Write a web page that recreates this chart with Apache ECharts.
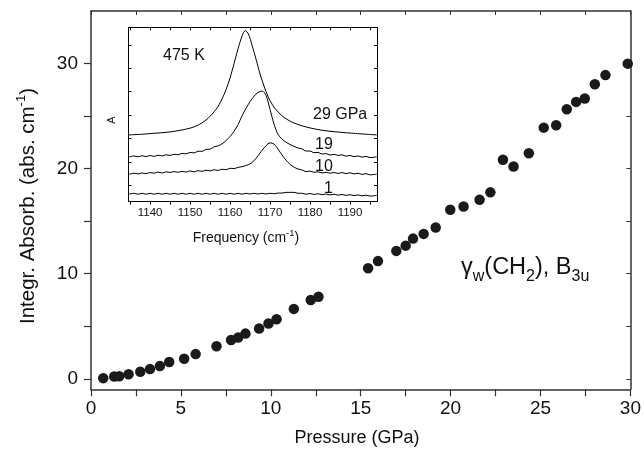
<!DOCTYPE html>
<html><head><meta charset="utf-8">
<script src="https://cdn.jsdelivr.net/npm/echarts@6/dist/echarts.min.js"></script>
<style>html,body{margin:0;padding:0;background:#fff}#c{width:644px;height:451px}</style>
</head><body><div id="c"></div>
<script>
// ---- main plot data ----
const pressure = [0.68,1.29,1.57,2.09,2.74,3.28,3.83,4.35,5.18,5.82,6.98,7.79,8.18,8.59,9.35,9.87,10.32,11.28,12.22,12.65,15.41,15.96,16.98,17.5,17.91,18.5,19.17,19.98,20.72,21.61,22.21,22.91,23.5,24.35,25.18,25.87,26.46,26.98,27.46,28.02,28.61,29.85];
const absorbance = [0.06,0.22,0.25,0.44,0.67,0.92,1.21,1.59,1.91,2.35,3.09,3.69,3.92,4.30,4.78,5.26,5.67,6.65,7.49,7.80,10.52,11.2,12.17,12.67,13.34,13.79,14.39,16.09,16.4,17.04,17.74,20.84,20.2,21.47,23.9,24.12,25.65,26.35,26.67,28.03,28.9,29.99];
const xTickLabels = [0,5,10,15,20,25,30];
const yTickLabels = [0,10,20,30];

// ---- inset spectra (475 K) ----
const freq = [1134.6,1136,1137,1138,1139,1140,1141,1142,1143,1144,1145,1146,1147,1148,1149,1150,1151,1152,1153,1154,1155,1156,1157,1158,1159,1160,1161,1162,1163,1164,1165,1166,1167,1168,1169,1170,1171,1172,1173,1174,1175,1176,1177,1178,1179,1180,1181,1182,1183,1184,1185,1186,1187,1188,1189,1190,1191,1192,1193,1194,1195,1196.7];
const spec19 = [1.91,1.96,1.92,1.97,1.93,1.98,1.94,1.99,1.96,2.01,1.98,2.03,2.01,2.07,2.05,2.11,2.09,2.16,2.16,2.24,2.25,2.35,2.39,2.48,2.62,2.79,3.02,3.30,3.68,4.00,4.29,4.52,4.68,4.74,4.55,3.95,3.32,2.88,2.68,2.55,2.45,2.37,2.30,2.26,2.17,2.17,2.10,2.11,2.04,2.06,2.00,2.03,1.98,2.01,1.95,1.98,1.93,1.96,1.91,1.94,1.89,1.92];
const spec10 = [1.17,1.22,1.19,1.23,1.20,1.25,1.22,1.27,1.23,1.28,1.25,1.29,1.26,1.30,1.27,1.32,1.28,1.33,1.30,1.35,1.32,1.37,1.34,1.39,1.37,1.43,1.42,1.47,1.50,1.55,1.62,1.76,1.97,2.20,2.40,2.52,2.47,2.25,2.00,1.78,1.60,1.48,1.40,1.36,1.29,1.31,1.26,1.28,1.23,1.26,1.22,1.25,1.21,1.25,1.20,1.24,1.19,1.22,1.17,1.20,1.15,1.18];
const spec1 = [0.32,0.36,0.32,0.36,0.32,0.36,0.32,0.36,0.32,0.36,0.32,0.36,0.32,0.36,0.32,0.36,0.32,0.36,0.32,0.36,0.32,0.36,0.32,0.36,0.32,0.36,0.32,0.36,0.32,0.36,0.33,0.36,0.33,0.36,0.33,0.36,0.34,0.37,0.37,0.40,0.40,0.40,0.36,0.36,0.32,0.35,0.31,0.34,0.30,0.33,0.29,0.32,0.28,0.31,0.27,0.30,0.26,0.29,0.25,0.28,0.24,0.27];
const freq29 = [1134.6,1138,1141,1144,1147,1150,1152,1154,1155,1156,1157,1158,1159,1160,1161,1162,1163,1163.8,1164.6,1165.5,1166.5,1167.5,1168.5,1169.5,1170.5,1171.5,1173,1174.5,1176,1178,1180,1183,1186,1190,1196.7];
const spec29 = [2.86,2.89,2.93,2.97,3.04,3.15,3.28,3.50,3.66,3.85,4.08,4.40,4.80,5.30,5.92,6.55,7.10,7.33,7.18,6.70,6.10,5.47,4.95,4.50,4.18,3.94,3.68,3.50,3.37,3.25,3.16,3.06,3.00,2.94,2.86];
const insetXTicks = [1135,1140,1145,1150,1155,1160,1165,1170,1175,1180,1185,1190,1195];
const insetXLabels = [1140,1150,1160,1170,1180,1190];
const insetYTicks = [0.71,1.71,2.71,3.71,4.71,5.71,6.71];

const FONT = '"Liberation Sans", Arial, Helvetica, sans-serif';
const INK = '#111';
const FRAME = '#333';

const chart = echarts.init(document.getElementById('c'));

const ctx = document.createElement('canvas').getContext('2d');
function tw(t, s){ ctx.font = s + 'px ' + FONT; return ctx.measureText(t).width; }
// parts: [text, fontSize, dy]
function richText(parts, x, y, rotation, align){
  let total = 0; parts.forEach(p => total += tw(p[0], p[1]));
  let cx = align === 'left' ? 0 : -total/2;
  const children = parts.map(p => {
    const el = { type:'text', x: cx, y: p[2], style:{ text:p[0], font: p[1]+'px '+FONT, fill: INK, textAlign:'left', textVerticalAlign:'middle', verticalAlign:'middle' } };
    cx += tw(p[0], p[1]);
    return el;
  });
  return { type:'group', x:x, y:y, rotation: rotation||0, children: children, z: 100 };
}
const plain = v => String(v);

const main = {left:91, top:11, width:540.5, height:378.3};
const inset = {left:128.5, top:27.3, width:248.5, height:174.4};

const lineSeries = (name, xs, ys) => ({
  type:'line', name:name, xAxisIndex:2, yAxisIndex:2, showSymbol:false, smooth:0.3,
  data: xs.map((f,i)=>[f, ys[i]]), lineStyle:{color:'#000', width:1}, silent:true, z:5
});

chart.setOption({
  animation:false,
  backgroundColor:'#fff',
  grid:[
    {left:main.left, top:main.top, width:main.width, height:main.height},
    {left:inset.left, top:inset.top, width:inset.width, height:inset.height}
  ],
  xAxis:[
    {gridIndex:0, type:'value', min:0, max:30, interval:2.5, position:'bottom',
     axisLine:{onZero:false, lineStyle:{color:FRAME,width:1.5}}, splitLine:{show:false},
     axisTick:{inside:false,length:7,lineStyle:{color:FRAME,width:1.2}},
     axisLabel:{customValues:xTickLabels, formatter:plain, color:INK, fontSize:19, fontFamily:FONT, margin:10}},
    {gridIndex:0, type:'value', min:0, max:30, interval:2.5, position:'top',
     axisLine:{onZero:false, lineStyle:{color:FRAME,width:1.5}}, splitLine:{show:false},
     axisTick:{inside:true,length:4,lineStyle:{color:FRAME,width:1}}, axisLabel:{show:false}},
    {gridIndex:1, type:'value', min:1134.6, max:1196.75, position:'bottom',
     axisLine:{onZero:false, lineStyle:{color:'#000',width:1}}, splitLine:{show:false},
     axisTick:{customValues:insetXTicks, inside:false,length:3,lineStyle:{color:'#000',width:1}},
     axisLabel:{customValues:insetXLabels, formatter:plain, color:INK, fontSize:11.5, fontFamily:FONT, margin:5}},
    {gridIndex:1, type:'value', min:1134.6, max:1196.75, position:'top',
     axisLine:{onZero:false, lineStyle:{color:'#000',width:1}}, splitLine:{show:false},
     axisTick:{customValues:insetXTicks, inside:true,length:3,lineStyle:{color:'#000',width:1}},
     axisLabel:{show:false}}
  ],
  yAxis:[
    {gridIndex:0, type:'value', min:-1, max:35, position:'left',
     axisLine:{show:true,onZero:false,lineStyle:{color:FRAME,width:1.5}}, splitLine:{show:false},
     axisTick:{show:true,customValues:[0,5,10,15,20,25,30],inside:false,length:7,lineStyle:{color:FRAME,width:1.2}},
     axisLabel:{customValues:yTickLabels, formatter:plain, color:INK, fontSize:19, fontFamily:FONT, margin:13}},
    {gridIndex:0, type:'value', min:-1, max:35, position:'right',
     axisLine:{show:true,onZero:false,lineStyle:{color:FRAME,width:1.5}}, splitLine:{show:false},
     axisTick:{show:true,customValues:[0,5,10,15,20,25,30],inside:true,length:4,lineStyle:{color:FRAME,width:1}},
     axisLabel:{show:false}},
    {gridIndex:1, type:'value', min:0, max:7.47, position:'left',
     axisLine:{show:true,onZero:false,lineStyle:{color:'#000',width:1}}, splitLine:{show:false},
     axisTick:{show:true,customValues:insetYTicks,inside:true,length:3,lineStyle:{color:'#000',width:1}},
     axisLabel:{show:false}},
    {gridIndex:1, type:'value', min:0, max:7.47, position:'right',
     axisLine:{show:true,onZero:false,lineStyle:{color:'#000',width:1}}, splitLine:{show:false},
     axisTick:{show:true,customValues:insetYTicks,inside:true,length:3,lineStyle:{color:'#000',width:1}},
     axisLabel:{show:false}}
  ],
  series:[
    {type:'scatter', xAxisIndex:0, yAxisIndex:0, clip:false, symbol:'circle', symbolSize:10.5,
     itemStyle:{color:'#1a1a1a', opacity:1}, data: pressure.map((p,i)=>[p, absorbance[i]]), z:3},
    lineSeries('29 GPa', freq29, spec29),
    lineSeries('19 GPa', freq, spec19),
    lineSeries('10 GPa', freq, spec10),
    lineSeries('1 GPa', freq, spec1)
  ],
  graphic:[
    richText([['Integr. Absorb. (abs. cm',20.5,0],['-1',13,-7],[')',20.5,0]], 28, 206, Math.PI/2),
    richText([['Pressure (GPa)',18,0]], 357, 438, 0),
    richText([['γ',23.5,0],['w',16,8.5],['(CH',23.5,0],['2',16,8.5],['), B',23.5,0],['3u',16,8.5]], 461, 268, 0, 'left'),
    richText([['475 K',16,0]], 163, 56, 0, 'left'),
    richText([['29 GPa',16,0]], 313, 115, 0, 'left'),
    richText([['19',16,0]], 315, 145, 0, 'left'),
    richText([['10',16,0]], 315, 167, 0, 'left'),
    richText([['1',16,0]], 324, 189, 0, 'left'),
    richText([['A',11,0]], 112, 120, Math.PI/2),
    richText([['Frequency (cm',14,0],['-1',9.5,-5],[')',14,0]], 246, 238, 0)
  ]
});
</script></body></html>
